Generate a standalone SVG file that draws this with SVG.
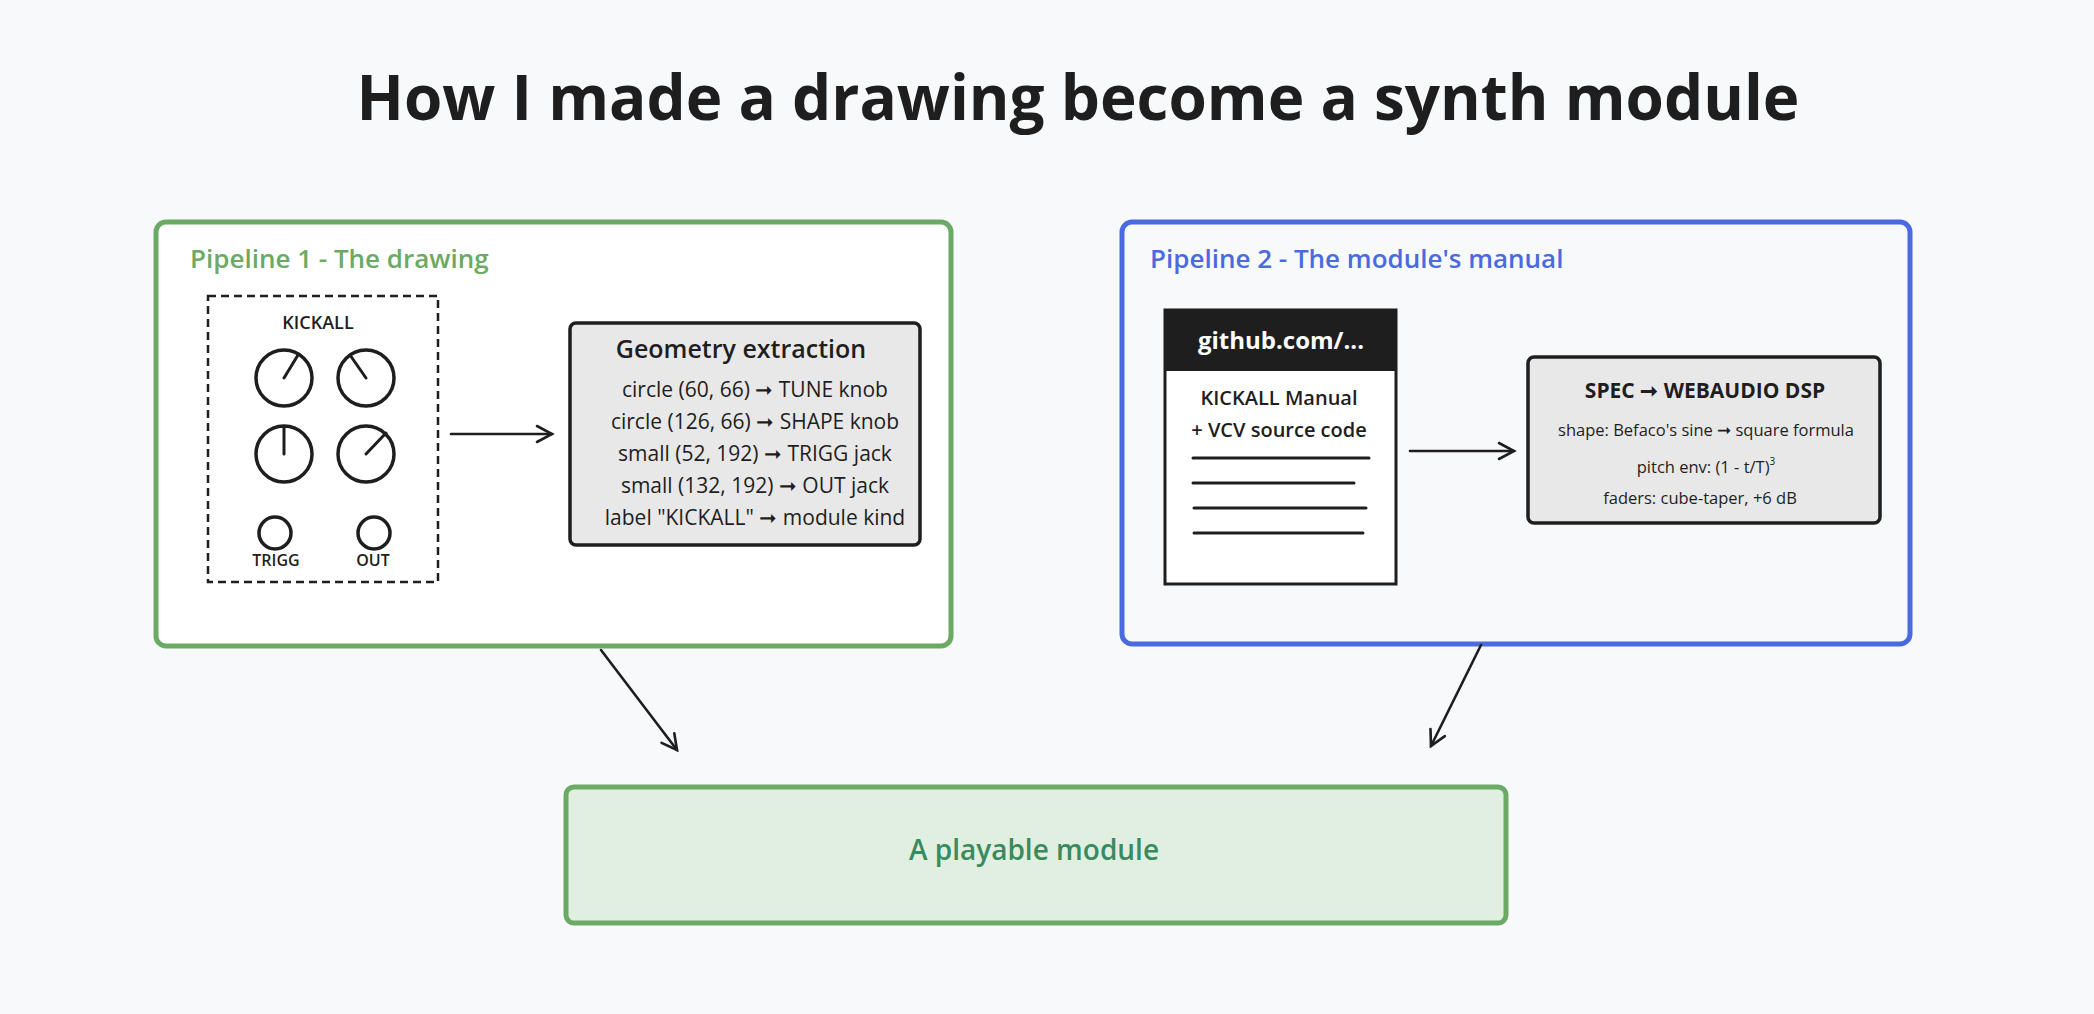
<svg xmlns="http://www.w3.org/2000/svg" width="2094" height="1014" viewBox="0 0 2094 1014">
<defs>
<marker id="ah2" viewBox="0 0 20 20" refX="17" refY="10" markerWidth="20" markerHeight="20" markerUnits="userSpaceOnUse" orient="auto"><path d="M2,2 L17,10 L2,18" fill="none" stroke="#1e1e1e" stroke-width="2.6" stroke-linecap="round"/></marker>
</defs>
<style>
text{font-family:"Open Sans","Liberation Sans",sans-serif;fill:#1e1e1e;text-anchor:middle}
.k{fill:none;stroke:#1e1e1e;stroke-width:3.5}
.ln{stroke:#1e1e1e;stroke-width:3;stroke-linecap:round}
.g{font-size:21px}
.s{font-size:16.5px}
</style>
<rect width="2094" height="1014" fill="#f8f9fb"/>
<text x="1078" y="120" font-size="62" font-weight="700">How I made a drawing become a synth module</text>
<g id="pipeline1">
<rect x="156" y="222" width="795" height="424" rx="10" fill="#ffffff" stroke="#6aaa64" stroke-width="5"/>
<text x="190" y="268" font-size="26" font-weight="600" style="text-anchor:start;fill:#6aaa64">Pipeline 1 - The drawing</text>
</g>
<g id="drawing">
<rect x="208" y="296" width="230" height="286" fill="none" stroke="#1e1e1e" stroke-width="2.5" stroke-dasharray="8 5"/>
<text x="318" y="329" font-size="18" font-weight="600">KICKALL</text>
<circle class="k" cx="284" cy="378" r="28"/><line class="ln" x1="284" y1="378" x2="298" y2="355"/>
<circle class="k" cx="366" cy="378" r="28"/><line class="ln" x1="366" y1="378" x2="350" y2="355"/>
<circle class="k" cx="284" cy="454" r="28"/><line class="ln" x1="284" y1="454" x2="284" y2="427"/>
<circle class="k" cx="366" cy="454" r="28"/><line class="ln" x1="366" y1="454" x2="386" y2="433"/>
<circle class="k" cx="275" cy="533" r="16"/><circle class="k" cx="374" cy="533" r="16"/>
<text x="276" y="566" font-size="16" font-weight="600">TRIGG</text>
<text x="373" y="566" font-size="16" font-weight="600">OUT</text>
</g>
<g id="geometry">
<rect x="570" y="323" width="350" height="222" rx="6" fill="#e8e8e8" stroke="#1e1e1e" stroke-width="3.5"/>
<text x="741" y="358" font-size="25" font-weight="600">Geometry extraction</text>
<text class="g" x="755" y="397">circle (60, 66) ➞ TUNE knob</text>
<text class="g" x="755" y="429">circle (126, 66) ➞ SHAPE knob</text>
<text class="g" x="755" y="461">small (52, 192) ➞ TRIGG jack</text>
<text class="g" x="755" y="493">small (132, 192) ➞ OUT jack</text>
<text class="g" x="755" y="525">label "KICKALL" ➞ module kind</text>
</g>
<g id="pipeline2">
<rect x="1122" y="222" width="788" height="422" rx="10" fill="#f8f9fb" stroke="#4a6be0" stroke-width="5"/>
<text x="1150" y="268" font-size="26" font-weight="600" style="text-anchor:start;fill:#4a6be0">Pipeline 2 - The module's manual</text>
</g>
<g id="manual">
<rect x="1165" y="310" width="231" height="274" fill="#ffffff" stroke="#1e1e1e" stroke-width="3"/>
<rect x="1165" y="310" width="231" height="61" fill="#1e1e1e"/>
<text x="1281" y="349" font-size="24" font-weight="700" style="fill:#ffffff">github.com/...</text>
<text x="1279" y="405" font-size="20" font-weight="600">KICKALL Manual</text>
<text x="1279" y="437" font-size="20" font-weight="600">+ VCV source code</text>
<line class="ln" x1="1193" y1="458" x2="1369" y2="458"/>
<line class="ln" x1="1193" y1="483" x2="1354" y2="483"/>
<line class="ln" x1="1194" y1="508" x2="1366" y2="508"/>
<line class="ln" x1="1194" y1="533" x2="1363" y2="533"/>
</g>
<g id="spec">
<rect x="1528" y="357" width="352" height="166" rx="6" fill="#e8e8e8" stroke="#1e1e1e" stroke-width="3.5"/>
<text x="1705" y="398" font-size="21" font-weight="700">SPEC ➞ WEBAUDIO DSP</text>
<text class="s" x="1706" y="436">shape: Befaco's sine ➞ square formula</text>
<text class="s" x="1706" y="473">pitch env: (1 - t/T)<tspan font-size="10" dy="-8">3</tspan></text>
<text class="s" x="1700" y="504">faders: cube-taper, +6 dB</text>
</g>
<g id="result">
<rect x="566" y="787" width="940" height="136" rx="8" fill="#e0efe0" stroke="#6aaa64" stroke-width="5"/>
<text x="1034" y="860" font-size="28" font-weight="600" style="fill:#3a8a60">A playable module</text>
</g>
<g id="connectors" fill="none" stroke="#1e1e1e" stroke-width="2.6" stroke-linecap="round">
<line x1="451" y1="434" x2="552" y2="434" marker-end="url(#ah2)"/>
<line x1="1410" y1="451" x2="1514" y2="451" marker-end="url(#ah2)"/>
<line x1="601" y1="650" x2="677" y2="750" marker-end="url(#ah2)"/>
<line x1="1481" y1="645" x2="1431" y2="746" marker-end="url(#ah2)"/>
</g>
</svg>
